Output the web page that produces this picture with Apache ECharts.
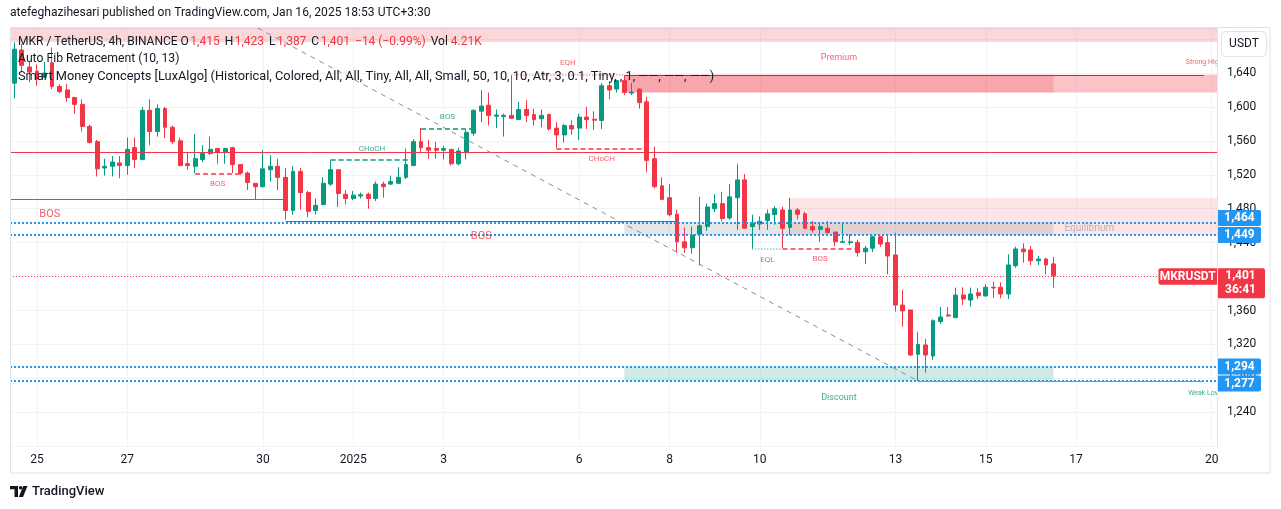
<!DOCTYPE html>
<html><head><meta charset="utf-8">
<script src="https://cdn.jsdelivr.net/npm/echarts@6/dist/echarts.min.js"></script>
<style>html,body{margin:0;padding:0;background:#fff;}#c{width:1281px;height:509px;}</style>
</head><body><div id="c"></div>
<script>
// ---------------- DATA (MKR/USDT 4h, bar 0 = Dec 24 15:30) ----------------
const open = [1628,1667,1647,1642,1635,1652,1624,1620,1611,1603,1577,1559,1528,1530,1534,1531,1552,1538,1596,1571,
1598,1576,1560,1533,1530,1538,1545,1551,1547,1552,1532,1522,1510,1506,1526,1530,1517,1478,1524,1499,
1478,1485,1509,1526,1497,1492,1495,1497,1492,1509,1509,1510,1517,1531,1559,1552,1551,1549,1550,1533,
1546,1569,1595,1602,1589,1588.5,1590,1585,1597,1591,1586,1591,1575,1567,1578,1575,1588,1585.4,1584,1625,
1621,1631,1616.3,1621,1606,1539,1507,1493,1473.5,1441,1434,1450,1459,1480,1486,1469,1493,1514,1459,1462,
1466,1473,1478.5,1458,1478.5,1474,1459,1455.7,1457,1452.6,1440.4,1440,1440.4,1429.3,1433.4,1447,1440,1425.5,1366.5,1360.7,
1308.5,1319.4,1306.4,1347,1354.8,1351.6,1378.3,1372.4,1381,1377.2,1387.4,1387.4,1379.5,1412.9,1432.5,1431.4,1418.7,1420.7,1415];
const high = [1676,1674,1653,1650,1653,1670,1627,1627,1612,1609,1579,1561,1539,1542,1542,1564,1564,1600,1609,1603,
1600,1578,1564,1547,1568,1555,1565,1552,1552,1553,1532,1524,1510,1549,1543,1539,1528,1530,1528,1501,
1492,1517,1537,1526,1502,1501,1499,1499,1512,1512,1519,1529,1551,1562,1575,1561,1559,1554,1550.5,1552,
1573,1597,1620,1617,1597,1592,1637,1606,1608,1598,1597,1592,1582,1580,1584,1592,1600,1595,1628,1630,
1632,1636.5,1628,1622,1612,1553,1517,1509,1479,1458,1459,1494,1486,1497,1500,1509,1533,1521,1473,1471,
1479,1483,1482.5,1493,1481,1476.5,1465.5,1462,1465.5,1452.6,1463.5,1450,1443.7,1436,1448.4,1448.2,1449,1451.7,1384.2,1360.7,
1335,1326.5,1349.7,1364,1364,1387,1387.4,1387,1386.2,1391,1394,1393.3,1426.3,1435.2,1439.2,1436,1424.3,1422.3,1423];
const low = [1610,1641,1629,1625,1634,1621,1616,1606,1592,1571,1557,1518,1519,1518,1516,1520,1528,1537,1555,1565,
1563,1556,1530,1526,1522,1535,1543,1533,1533,1522,1520,1502,1491,1505,1512,1502,1467,1473,1479,1470,
1473,1484,1507,1482,1485,1490,1492,1480,1489,1493,1508,1509,1515,1530,1546,1539,1539,1538,1531,1531,
1538,1566,1582,1578,1575,1565,1586,1584.5,1582,1578,1576,1572,1551,1558,1567,1561,1574,1573,1574,1609,
1617,1614,1614,1598,1523,1504,1490,1471,1428,1428,1427,1413,1454,1476,1465,1467,1455,1456.5,1433,1455,
1455,1461,1433.4,1449,1467.5,1455.7,1451.7,1441,1451,1436,1440.2,1437,1423.5,1415,1429,1435,1402.5,1358.7,1341,1306.4,
1277,1286.8,1301.7,1344,1352.8,1351.6,1366.5,1364.5,1373.6,1376.3,1375,1374.4,1373.6,1410.5,1416.4,1413.7,1413.7,1402.7,1387];
const close = [1668,1649,1641,1633,1640,1624,1618,1611,1603,1577,1558,1527,1530,1535,1531,1550,1538,1596,1571,1598,
1576,1559,1531,1531,1539,1545,1550,1547,1551,1532,1522,1511,1506,1527,1530,1517,1478,1524,1499,1477,
1484,1510,1526,1498,1492,1496,1496.5,1492,1509,1506,1512,1517,1532,1559,1552,1549,1549,1551,1533,1548,
1570,1596,1601,1590,1590.4,1590,1586.5,1597,1590,1585,1590,1574,1567,1578,1574,1588,1585,1584.3,1625,1620,
1631,1617,1617.5,1605,1537,1506,1491,1473,1441,1434,1449,1460,1482,1486,1468.5,1494,1514,1457,1463,1465,
1474,1480,1457,1478.5,1473.5,1457,1455,1458.8,1451.7,1441,1441.1,1441,1428.4,1433.4,1447,1438.4,1424.3,1366.5,1359.5,1307.6,
1320,1307.6,1348,1352.4,1353.6,1378.3,1373.6,1379.5,1377.5,1387.4,1386.6,1379.5,1413.7,1432.5,1429.3,1418.7,1420.7,1413.7,1401];

// time axis: bar index of the first bar of each labelled day
const dayBars   = [3, 15, 33, 45, 57, 75, 87, 99, 117, 129, 141, 159];
const dayLabels = ['25','27','30','2025','3','6','8','10','13','15','17','20'];

// price levels
const lastPrice = 1401;
const fibLevels = [1464, 1449, 1294, 1277];
const keyLevel = 1546.5;

// structure breaks: [kind, label, bias, fromBar, toBar, price]
const structures = [
  ['swing',    'BOS',   'bear', -26.6, 36, 1491],
  ['swing',    'BOS',   'bear', 36, 88, 1464.7],
  ['internal', 'BOS',   'bear', 24, 30, 1521.7],
  ['internal', 'CHoCH', 'bull', 42, 53, 1537.4],
  ['internal', 'BOS',   'bull', 54, 61, 1574.7],
  ['internal', 'CHoCH', 'bear', 72, 84, 1551.2],
  ['internal', 'BOS',   'bear', 102, 112, 1433.4]
];
// equal highs / lows: [label, bias, fromBar, toBar, price]
const equalLevels = [
  ['EQH', 'bear', 66, 81, 1637.5],
  ['EQL', 'bull', 98, 102, 1433.4]
];
// zones: [name, fromBar, toBar, top, bottom]  (null = runs to the chart edge)
const zones = [
  ['upper',       null, null, 1693, 1676.5],
  ['orderBlock',  81,   null, 1638, 1617],
  ['premium',     81,   138,  1638, 1617],
  ['supply',      103,  null, 1493, 1449],
  ['equilibrium', 81,   138,  1464, 1449],
  ['discount',    81,   138,  1294, 1277]
];
// trailing extremes: [label, bias, fromBar, toBar, price]
const trailing = [
  ['Strong High', 'bear', 81, 158, 1637.5],
  ['Weak Low',    'bull', 120, 158, 1277]
];
// auto-fib trend line: [bar, price] pairs
const fibTrend = [[32.3, 1693], [120, 1277]];

// ---------------- STYLE / LAYOUT ----------------
const FONT = 'Roboto, "Noto Sans", Arial, sans-serif';
const GREEN = '#089981', RED = '#f23645', BLUE = '#2196f3', TXT = '#131722';
const X_MIN = -0.584, X_MAX = 159.71, Y_MIN = 1200, Y_MAX = 1693;
const biasColor = b => b === 'bull' ? GREEN : RED;
const fmt = v => Math.round(v).toLocaleString('en-US');

const zoneFill = {
  upper: 'rgba(242,54,69,0.2)', orderBlock: 'rgba(242,54,69,0.3)', premium: 'rgba(242,54,69,0.2)',
  supply: 'rgba(242,54,69,0.13)', equilibrium: 'rgba(120,123,134,0.2)', discount: 'rgba(8,153,129,0.2)'
};

const candleData = open.map((o, i) => [i, o, close[i], low[i], high[i]]);

const markAreas = zones.map(z => [
  {coord: [z[1] == null ? X_MIN : z[1], z[3]], itemStyle: {color: zoneFill[z[0]], borderWidth: 0}},
  {coord: [z[2] == null ? X_MAX : z[2], z[4]]}
]);

const markLines = [];
fibLevels.forEach(v => markLines.push({yAxis: v, lineStyle: {color: BLUE, width: 2, type: [2, 2]}}));
markLines.push({yAxis: keyLevel, lineStyle: {color: RED, width: 1, type: 'solid'}});
markLines.push({yAxis: lastPrice, lineStyle: {color: RED, width: 1, type: [1, 2]}});
structures.forEach(s => {
  const col = biasColor(s[2]);
  markLines.push([
    {coord: [Math.max(s[3], X_MIN), s[5]], lineStyle: {color: col, width: s[0] === 'swing' ? 1 : 1.5, type: s[0] === 'swing' ? 'solid' : [5, 3]}},
    {coord: [Math.min(s[4], X_MAX), s[5]]}
  ]);
});
equalLevels.forEach(e => markLines.push([
  {coord: [e[2], e[4]], lineStyle: {color: biasColor(e[1]), width: 1.5, type: [1, 2], opacity: 0.7}},
  {coord: [e[3], e[4]]}
]));
trailing.forEach(t => markLines.push([
  {coord: [t[2], t[4]], lineStyle: {color: t[1] === 'bear' ? '#c62835' : '#7d8db0', width: 1, type: 'solid'}},
  {coord: [t[3], t[4]]}
]));
markLines.push([
  {coord: fibTrend[0], lineStyle: {color: '#8a8d96', width: 1, type: [5, 5]}},
  {coord: fibTrend[1]}
]);

const notes = [];
structures.forEach(s => {
  const mid = (s[3] + s[4]) / 2, big = s[0] === 'swing', up = s[2] === 'bull';
  notes.push({value: [mid, s[5]], label: {formatter: s[1], color: biasColor(s[2]), fontSize: big ? 11 : 8,
    position: up ? 'top' : 'bottom', distance: big ? 9 : 7}});
});
equalLevels.forEach(e => {
  const up = e[0] === 'EQH';
  notes.push({value: [(e[2] + e[3]) / 2, e[4]], label: {formatter: e[0], color: biasColor(e[1]), fontSize: 8,
    position: up ? 'top' : 'bottom', distance: 8}});
});
zones.forEach(z => {
  if (z[0] === 'premium') notes.push({value: [(z[1] + z[2]) / 2, z[3]], label: {formatter: 'Premium', color: RED, fontSize: 9, position: 'top', distance: 12}});
  if (z[0] === 'discount') notes.push({value: [(z[1] + z[2]) / 2, z[4]], label: {formatter: 'Discount', color: GREEN, fontSize: 9, position: 'bottom', distance: 12}});
  if (z[0] === 'equilibrium') notes.push({value: [z[2], (z[3] + z[4]) / 2], label: {formatter: 'Equilibrium', color: '#a3a6af', fontSize: 10, position: 'right', distance: 11}});
});
trailing.forEach(t => notes.push({value: [t[3], t[4]], label: {formatter: t[0], color: biasColor(t[1]), fontSize: 7,
  position: t[1] === 'bear' ? 'top' : 'bottom', distance: 9}}));

const chart = echarts.init(document.getElementById('c'), null, {width: 1281, height: 509});
chart.setOption({
  animation: false,
  backgroundColor: '#ffffff',
  textStyle: {fontFamily: FONT},
  grid: {left: 10, top: 28, width: 1207, height: 418.3},
  xAxis: {
    type: 'value', min: X_MIN, max: X_MAX,
    axisLine: {show: false},
    axisTick: {show: false, customValues: dayBars},
    axisLabel: {customValues: dayBars, color: TXT, fontSize: 12, fontFamily: FONT, margin: 8,
      formatter: v => dayLabels[dayBars.indexOf(Math.round(v))] || ''},
    splitLine: {show: true, lineStyle: {color: '#f0f3fa', width: 1}}
  },
  yAxis: [
    {type: 'value', position: 'right', min: Y_MIN, max: Y_MAX, interval: 40,
      axisLabel: {show: false}, axisLine: {show: false}, axisTick: {show: false},
      splitLine: {show: true, lineStyle: {color: '#f0f3fa', width: 1}}},
    {type: 'value', position: 'right', min: Y_MIN, max: Y_MAX, interval: 40, z: 10,
      axisLabel: {color: TXT, fontSize: 12, fontFamily: FONT, margin: 10,
        formatter: v => (v % 40 === 0 && v >= 1240 && v <= 1680) ? fmt(v) : ''},
      axisLine: {show: true, lineStyle: {color: '#e0e3eb'}}, axisTick: {show: false}, splitLine: {show: false}}
  ],
  series: [
    {
      type: 'candlestick', z: 2,
      dimensions: ['bar', 'open', 'close', 'low', 'high'],
      encode: {x: 'bar', y: ['open', 'close', 'low', 'high']},
      data: candleData, barWidth: 4.4,
      itemStyle: {color: GREEN, color0: RED, borderColor: GREEN, borderColor0: RED, borderWidth: 1},
      markArea: {silent: true, z: 1, label: {show: false}, data: markAreas},
      markLine: {silent: true, z: 3, symbol: ['none', 'none'], label: {show: false}, data: markLines}
    },
    {
      type: 'scatter', z: 4, symbolSize: 0, silent: true,
      label: {show: true, fontFamily: FONT},
      data: notes
    }
  ]
});

// ---------------- fixed page furniture + right-side tags ----------------
const yPix = v => chart.convertToPixel({yAxisIndex: 0}, v);
const g = [];
const f = s => s + 'px ' + FONT;
g.push({type: 'text', x: 10, y: 13, z: 20, style: {text: 'atefeghazihesari published on TradingView.com, Jan 16, 2025 18:53 UTC+3:30',
  fill: TXT, font: f(12.1), verticalAlign: 'middle'}});
g.push({type: 'text', x: 18, y: 42, z: 20, style: {
  text: '{n|MKR / TetherUS, 4h, BINANCE}{o|O}{v|1,415}{k|H}{v|1,423}{k|L}{v|1,387}{k|C}{v|1,401}{w|−14 (−0.99%)}{k|Vol}{u|4.21K}',
  verticalAlign: 'middle', font: f(12),
  rich: {n: {fill: TXT, font: f(12)}, o: {fill: TXT, font: f(12), padding: [0, 0, 0, 3]},
    k: {fill: TXT, font: f(12), padding: [0, 0, 0, 5]},
    v: {fill: RED, font: f(12), padding: [0, 0, 0, 1.5]}, w: {fill: RED, font: f(12), padding: [0, 0, 0, 5]},
    u: {fill: RED, font: f(12), padding: [0, 0, 0, 3]}}}});
g.push({type: 'text', x: 18, y: 59, z: 20, style: {text: 'Auto Fib Retracement (10, 13)', fill: TXT, font: f(12.2), verticalAlign: 'middle'}});
g.push({type: 'text', x: 18, y: 76.5, z: 20, style: {text: 'Smart Money Concepts [LuxAlgo] (Historical, Colored, All, All, Tiny, All, All, Small, 50, 10, 10, Atr, 3, 0.1, Tiny, , 1, ——, ——, ——)',
  fill: TXT, font: f(12.8), verticalAlign: 'middle'}});
g.push({type: 'rect', z: 8, silent: true, shape: {x: 1217.5, y: 0, width: 64, height: 446}, style: {fill: '#ffffff'}});
g.push({type: 'rect', z: 9, silent: true, shape: {x: 10.5, y: 27.5, width: 1259.5, height: 445.5}, style: {fill: 'none', stroke: '#e0e3eb', lineWidth: 1}});
g.push({type: 'rect', z: 11, shape: {x: 1221.5, y: 31.5, width: 45, height: 25, r: 4}, style: {fill: '#fff', stroke: '#e0e3eb', lineWidth: 1}});
g.push({type: 'text', z: 12, x: 1244, y: 44, style: {text: 'USDT', fill: TXT, font: f(12), align: 'center', verticalAlign: 'middle'}});

const yLast = yPix(lastPrice);
const placed = [{top: yLast - 7.5, bottom: yLast + 22.5}];
fibLevels.slice().sort((a, b) => Math.abs(a - lastPrice) - Math.abs(b - lastPrice)).forEach(v => {
  let c = yPix(v);
  const up = v > lastPrice;
  let moved = true, guard = 0;
  while (moved && guard++ < 10) {
    moved = false;
    placed.forEach(p => {
      if (c - 8 < p.bottom + 1 && c + 8 > p.top - 1) { c = up ? p.top - 9 : p.bottom + 9; moved = true; }
    });
  }
  placed.push({top: c - 8, bottom: c + 8});
  g.push({type: 'rect', z: 13, shape: {x: 1218, y: c - 8, width: 43, height: 16, r: [0, 2, 2, 0]}, style: {fill: BLUE}});
  g.push({type: 'text', z: 14, x: 1239.5, y: c, style: {text: fmt(v), fill: '#fff', font: 'bold ' + f(12), align: 'center', verticalAlign: 'middle'}});
});
g.push({type: 'rect', z: 13, shape: {x: 1218, y: yLast - 7.5, width: 47, height: 30, r: [0, 2, 2, 0]}, style: {fill: RED}});
g.push({type: 'text', z: 14, x: 1240.5, y: yLast + 0.5, style: {text: fmt(lastPrice), fill: '#fff', font: 'bold ' + f(12), align: 'center', verticalAlign: 'middle'}});
g.push({type: 'text', z: 14, x: 1240.5, y: yLast + 14.5, style: {text: '36:41', fill: '#fff', font: 'bold ' + f(12), align: 'center', verticalAlign: 'middle'}});
g.push({type: 'rect', z: 13, shape: {x: 1158.5, y: yLast - 7.5, width: 58.5, height: 16.5, r: [2, 0, 0, 2]}, style: {fill: RED}});
g.push({type: 'text', z: 14, x: 1187.7, y: yLast + 0.8, style: {text: 'MKRUSDT', fill: '#fff', font: 'bold ' + f(12), align: 'center', verticalAlign: 'middle'}});
g.push({type: 'polygon', z: 20, shape: {points: [[10, 486], [18, 486], [18, 497], [14.5, 497], [14.5, 489.3], [10, 489.3]]}, style: {fill: TXT}});
g.push({type: 'circle', z: 20, shape: {cx: 20.6, cy: 487.8, r: 1.8}, style: {fill: TXT}});
g.push({type: 'polygon', z: 20, shape: {points: [[23.2, 486], [27.5, 486], [23, 497], [18.8, 497]]}, style: {fill: TXT}});
g.push({type: 'text', z: 20, x: 32, y: 491.5, style: {text: 'TradingView', fill: TXT, font: '500 ' + f(13), verticalAlign: 'middle'}});
chart.setOption({graphic: g});
</script>
</body></html>
